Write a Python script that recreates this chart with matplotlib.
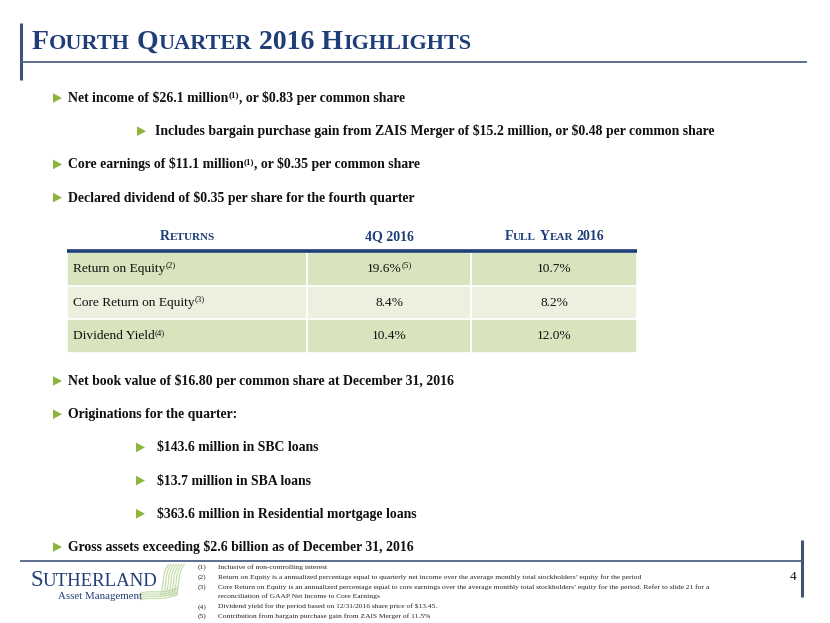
import re
import numpy as np
import matplotlib.pyplot as plt
from matplotlib.patches import Rectangle, Polygon, PathPatch
from matplotlib.path import Path

# ---- slide content ----
title = "Fourth Quarter 2016 Highlights"

top_bullets = [
    [("Net income of $26.1 million", 0), ("(1)", 1), (", or $0.83 per common share", 0)],
    [("Includes bargain purchase gain from ZAIS Merger of $15.2 million, or $0.48 per common share", 0)],
    [("Core earnings of $11.1 million", 0), ("(1)", 1), (", or $0.35 per common share", 0)],
    [("Declared dividend of $0.35 per share for the fourth quarter", 0)],
]
top_levels = [0, 1, 0, 0]

table_headers = ["Returns", "4Q 2016", "Full Year 2016"]
row_labels = ["Return on Equity", "Core Return on Equity", "Dividend Yield"]
row_notes = ["(2)", "(3)", "(4)"]
q4_values = ["19.6%", "8.4%", "10.4%"]
q4_notes = ["(5)", "", ""]
fy_values = ["10.7%", "8.2%", "12.0%"]

bottom_bullets = [
    "Net book value of $16.80 per common share at December 31, 2016",
    "Originations for the quarter:",
    "$143.6 million in SBC loans",
    "$13.7 million in SBA loans",
    "$363.6 million in Residential mortgage loans",
    "Gross assets exceeding $2.6 billion as of December 31, 2016",
]
bottom_levels = [0, 0, 1, 1, 1, 0]

footnotes = [
    ("(1)", ["Inclusive of non-controlling interest"]),
    ("(2)", ["Return on Equity is a annualized percentage equal to quarterly net income over the average monthly total stockholders\u2019 equity for the period"]),
    ("(3)", ["Core Return on Equity is an annualized percentage equal to core earnings over the average monthly total stockholders\u2019 equity for the period. Refer to slide 21 for a",
             "reconciliation of GAAP Net Income to Core Earnings"]),
    ("(4)", ["Dividend yield for the period based on 12/31/2016 share price of $13.45."]),
    ("(5)", ["Contribution from bargain purchase gain from ZAIS Merger of 11.5%"]),
]
page_number = "4"

# ---- style ----
SERIF = "Liberation Serif"
NAVY = "#1f3e77"
SLATE = "#4f6287"
GREEN = "#8db53c"
ROW_DARK = "#d7e4bd"
ROW_LIGHT = "#ebf1de"
TEXT = "#111111"
BODY = 9.95

fig = plt.figure(figsize=(8.3, 6.23), dpi=100)
ax = fig.add_axes([0, 0, 1, 1])
ax.set_xlim(0, 830)
ax.set_ylim(623, 0)
ax.axis("off")
renderer = fig.canvas.get_renderer()


def text_width(s, size, weight="normal"):
    t = ax.text(0, 0, s, fontsize=size, fontweight=weight, family=SERIF, parse_math=False)
    w = t.get_window_extent(renderer).width
    t.remove()
    return w


def space_width(size, weight="normal"):
    return text_width("x x", size, weight) - text_width("xx", size, weight)


def draw_runs(x, y, runs, weight="normal", color=TEXT):
    # runs: (text, fontsize, rise in px)
    for s, size, rise in runs:
        lead = len(s) - len(s.lstrip(" "))
        trail = len(s) - len(s.rstrip(" "))
        core = s.strip(" ")
        x += lead * space_width(size, weight)
        if core:
            ax.text(x, y - rise, core, fontsize=size, fontweight=weight, family=SERIF,
                    color=color, va="baseline", ha="left", parse_math=False)
            x += text_width(core, size, weight)
        x += trail * space_width(size, weight)
    return x


def small_caps(s, big, small):
    runs = []
    for ch in s:
        size = small if ch.islower() else big
        if runs and runs[-1][1] == size:
            runs[-1] = (runs[-1][0] + ch.upper(), size, 0)
        else:
            runs.append((ch.upper(), size, 0))
    return runs


def runs_width(runs, weight):
    return sum(text_width(s, sz, weight) for s, sz, _ in runs)


def bullet(x, y):
    ax.add_patch(Polygon([[x, y - 4.8], [x, y + 4.8], [x + 9, y]], closed=True,
                         facecolor=GREEN, edgecolor="none"))


# ---- header ----
ax.plot([21, 21], [23, 80], color="#44546f", lw=2.2, solid_capstyle="butt")
ax.plot([21, 806], [62, 62], color=SLATE, lw=1.3)
draw_runs(32, 49, small_caps(title, 20, 16), weight="bold", color=NAVY)

# ---- top bullets ----
x_text = {0: 68, 1: 155}
x_tri = {0: 53, 1: 137}
step = 33.2
for i, (parts, lev) in enumerate(zip(top_bullets, top_levels)):
    yb = 102 + i * step
    bullet(x_tri[lev], yb - 4)
    runs = [(s, 6.5 if sup else BODY, 4.5 if sup else 0) for s, sup in parts]
    draw_runs(x_text[lev], yb, runs, weight="bold")

# ---- table ----
col_edges = [67, 307, 471, 637]
row_top = 252
row_h = 33.6
head_runs = [small_caps(h, 10, 8) for h in table_headers]
for j, runs in enumerate(head_runs):
    cx = (col_edges[j] + col_edges[j + 1]) / 2
    w = runs_width(runs, "bold")
    draw_runs(cx - w / 2, 240, runs, weight="bold", color=NAVY)

for i in range(len(row_labels)):
    y0 = row_top + i * row_h
    fc = ROW_DARK if i % 2 == 0 else ROW_LIGHT
    for j in range(3):
        ax.add_patch(Rectangle((col_edges[j], y0), col_edges[j + 1] - col_edges[j], row_h,
                               facecolor=fc, edgecolor="white", lw=1.2))
    yb = y0 + 20
    draw_runs(73, yb, [(row_labels[i], 9.6, 0), (row_notes[i], 6.3, 4.5)])
    for j, (val, note) in enumerate([(q4_values[i], q4_notes[i]), (fy_values[i], "")]):
        runs = [(val, 9.6, 0)] + ([(note, 6.3, 4.5)] if note else [])
        w = runs_width(runs, "normal")
        cx = (col_edges[j + 1] + col_edges[j + 2]) / 2
        draw_runs(cx - w / 2, yb, runs)
ax.plot([col_edges[0], col_edges[-1]], [row_top - 1, row_top - 1], color=NAVY, lw=2.6,
        solid_capstyle="butt")

# ---- bottom bullets ----
for i, (s, lev) in enumerate(zip(bottom_bullets, bottom_levels)):
    yb = 385 + i * step
    bullet(x_tri[lev] - (0 if lev == 0 else 1), yb - 4)
    draw_runs(x_text[lev] + (0 if lev == 0 else 2), yb, [(s, BODY, 0)], weight="bold")

# ---- footer ----
ax.plot([21, 802], [561, 561], color=SLATE, lw=1.3)
ax.plot([802, 802], [540, 597], color="#44546f", lw=2.2, solid_capstyle="butt")
fy = 569
for num, lines in footnotes:
    for k, line in enumerate(lines):
        if k == 0:
            ax.text(198, fy, num, fontsize=5.4, family=SERIF, color="#222222",
                    va="baseline", parse_math=False)
        ax.text(218, fy, line, fontsize=5.4, family=SERIF, color="#222222",
                va="baseline", parse_math=False)
        fy += 9.8
ax.text(790, 580, page_number, fontsize=9.5, family=SERIF, color=TEXT, va="baseline")

# logo
draw_runs(30, 586, small_caps("Sutherland", 16.5, 13.5), color=NAVY)
ax.text(58, 599, "Asset Management", fontsize=7.8, family=SERIF, color=NAVY, va="baseline")
for k in range(7):
    x0 = 160 + k * 2.6
    verts = [(x0, 596), (x0 + 5, 585), (x0 + 1, 574), (x0 + 9, 564)]
    ax.add_patch(PathPatch(Path(verts, [Path.MOVETO, Path.CURVE4, Path.CURVE4, Path.CURVE4]),
                           facecolor="none", edgecolor="#b8d59a", lw=0.9, alpha=0.8))
for k in range(4):
    y0 = 600 - k * 2.2
    verts = [(140, y0), (150, y0 - 4), (162, y0 + 2), (178, y0 - 6)]
    ax.add_patch(PathPatch(Path(verts, [Path.MOVETO, Path.CURVE4, Path.CURVE4, Path.CURVE4]),
                           facecolor="none", edgecolor="#b8d59a", lw=0.9, alpha=0.8))

fig.savefig("out.png", dpi=100)
